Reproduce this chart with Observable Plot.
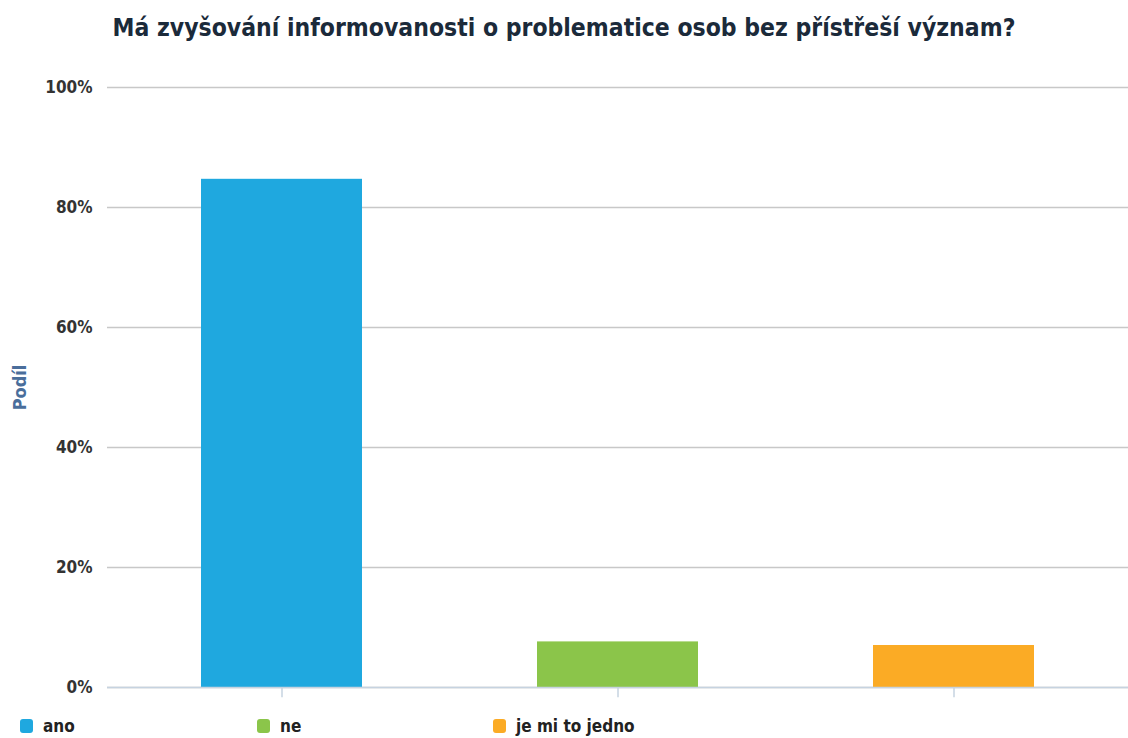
<!DOCTYPE html>
<html>
<head>
<meta charset="utf-8">
<script src="https://cdn.jsdelivr.net/npm/d3@7"></script>
<script src="https://cdn.jsdelivr.net/npm/@observablehq/plot@0.6"></script>
<style>
  html, body { margin: 0; padding: 0; background: #fff; width: 1128px; height: 738px; overflow: hidden; }
  body { font-family: "DejaVu Sans Condensed", "DejaVu Sans", sans-serif; position: relative; }
  #title { position: absolute; left: 0; top: 13px; width: 1128px; text-align: center; font-weight: bold; font-size: 24.5px; color: #1b2a3a; }
  #chart { position: absolute; left: 0; top: 60px; }
  #legend { position: absolute; left: 0; top: 716px; width: 1128px; height: 22px; }
  .item { position: absolute; top: 0; display: flex; align-items: center; font-weight: bold; font-size: 17px; color: #222; }
  .sw { width: 13px; height: 14px; border-radius: 3px; margin-right: 10px; }
</style>
</head>
<body>
<div id="title">Má zvyšování informovanosti o problematice osob bez přístřeší význam?</div>
<div id="chart"></div>
<div id="legend"></div>
<script>
const categories = ["ano", "ne", "je mi to jedno"];
const shares = [84.7, 7.6, 7.0];
const colors = ["#1fa8df", "#8bc54a", "#fbab25"];
const yTicks = [0, 20, 40, 60, 80, 100];
const legendX = [20, 257, 493];

const data = categories.map((c, i) => ({category: c, share: shares[i]}));

const chart = Plot.plot({
  width: 1128,
  height: 650,
  marginLeft: 107,
  marginRight: 0,
  marginTop: 27,
  marginBottom: 23,
  style: {fontFamily: '"DejaVu Sans Condensed", "DejaVu Sans", sans-serif', fontSize: "17px", fontWeight: "bold", color: "#333", background: "#fff"},
  x: {domain: categories, paddingInner: 0.52, paddingOuter: 0.277, axis: null},
  y: {domain: [0, 100], axis: null},
  color: {domain: categories, range: colors},
  marks: [
    Plot.gridY(yTicks, {stroke: "#c8c8c8", strokeOpacity: 1, strokeWidth: 1.3}),
    Plot.axisY(yTicks, {tickSize: 0, tickPadding: 15, tickFormat: d => d + "%", fill: "#333", label: null}),
    Plot.text(["Podíl"], {frameAnchor: "left", dx: -87, rotate: -90, textAnchor: "middle", fill: "#4a6e9b", fontSize: 18, fontWeight: "bold"}),
    Plot.barY(data, {x: "category", y: "share", fill: "category"}),
    Plot.ruleY([0], {stroke: "#c6d3e0", strokeWidth: 1.5}),
    Plot.ruleX(data, {x: "category", y1: 0, y2: -1.7, stroke: "#c6d3e0", strokeWidth: 1.5})
  ]
});
document.getElementById("chart").appendChild(chart);

const legend = document.getElementById("legend");
categories.forEach((c, i) => {
  const item = document.createElement("div");
  item.className = "item";
  item.style.left = legendX[i] + "px";
  const sw = document.createElement("div");
  sw.className = "sw";
  sw.style.background = colors[i];
  const t = document.createElement("span");
  t.textContent = c;
  item.appendChild(sw);
  item.appendChild(t);
  legend.appendChild(item);
});
</script>
</body>
</html>
